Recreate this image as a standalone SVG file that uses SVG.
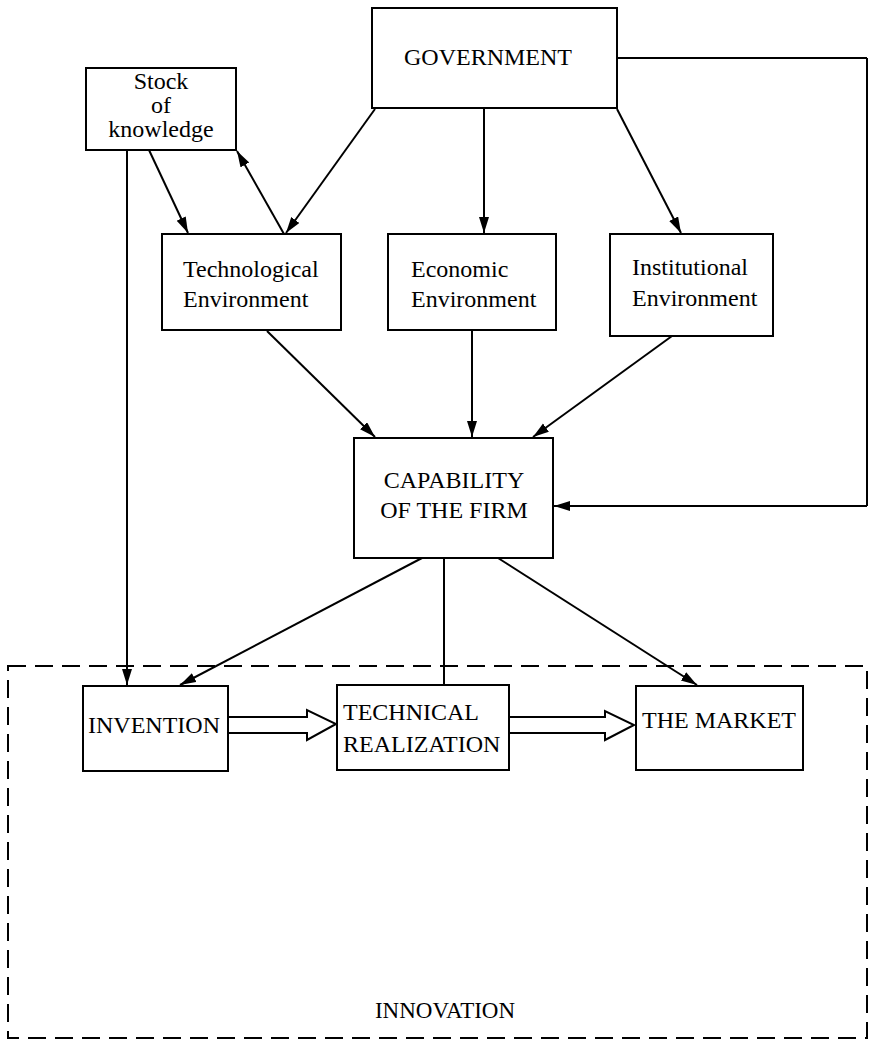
<svg xmlns="http://www.w3.org/2000/svg" width="874" height="1043" viewBox="0 0 874 1043">
  <style>
    .box { fill: #fff; stroke: #000; stroke-width: 2; }
    .lbl { font-family: "Liberation Serif", "Times New Roman", serif; font-size: 24px; fill: #000; }
    .mid { text-anchor: middle; }
    .edge { fill: none; stroke: #000; stroke-width: 2; }
    .fat { fill: #fff; stroke: #000; stroke-width: 2; stroke-linejoin: miter; }
    .frame { fill: none; stroke: #000; stroke-width: 2; stroke-dasharray: 18 9; }
  </style>
  <defs>
    <marker id="head" markerUnits="userSpaceOnUse" markerWidth="18" markerHeight="12" refX="16" refY="5" orient="auto">
      <path d="M0,0 L16,5 L0,10 Z" fill="#000"/>
    </marker>
  </defs>

  <!-- innovation frame -->
  <g id="innovation">
    <rect class="frame" x="8" y="666" width="859" height="372"/>
    <text class="lbl mid" x="445" y="1018" style="font-size:23px">INNOVATION</text>
  </g>

  <!-- connectors -->
  <g id="connectors">
    <line class="edge" x1="617" y1="58" x2="867" y2="58"/>
    <line class="edge" x1="867" y1="58" x2="867" y2="506"/>
    <line class="edge" x1="867" y1="506" x2="554" y2="506" marker-end="url(#head)"/>
    <line class="edge" x1="127" y1="150" x2="127" y2="685" marker-end="url(#head)"/>
    <line class="edge" x1="149" y1="150" x2="188" y2="233" marker-end="url(#head)"/>
    <line class="edge" x1="284" y1="234" x2="237" y2="151" marker-end="url(#head)"/>
    <line class="edge" x1="375" y1="109" x2="286" y2="233" marker-end="url(#head)"/>
    <line class="edge" x1="484" y1="108" x2="484" y2="233" marker-end="url(#head)"/>
    <line class="edge" x1="617" y1="109" x2="681" y2="233" marker-end="url(#head)"/>
    <line class="edge" x1="267" y1="331" x2="375" y2="437" marker-end="url(#head)"/>
    <line class="edge" x1="472" y1="331" x2="472" y2="437" marker-end="url(#head)"/>
    <line class="edge" x1="672" y1="336" x2="533" y2="437" marker-end="url(#head)"/>
    <line class="edge" x1="422" y1="558" x2="180" y2="685" marker-end="url(#head)"/>
    <line class="edge" x1="444" y1="558" x2="444" y2="685"/>
    <line class="edge" x1="498" y1="558" x2="697" y2="685" marker-end="url(#head)"/>
    <polygon class="fat" points="228,717 307,717 307,710 336,724 307,740 307,733 228,733"/>
    <polygon class="fat" points="509,717 605,717 605,711 634,725 605,740 605,733 509,733"/>
  </g>

  <g id="government">
    <rect class="box" x="372" y="8" width="245" height="100"/>
    <text class="lbl mid" x="488" y="65">GOVERNMENT</text>
  </g>

  <g id="stock">
    <rect class="box" x="86" y="68" width="150" height="82"/>
    <text class="lbl mid" x="161" y="89">Stock</text>
    <text class="lbl mid" x="161" y="113">of</text>
    <text class="lbl mid" x="161" y="137">knowledge</text>
  </g>

  <g id="technological">
    <rect class="box" x="162" y="234" width="179" height="96"/>
    <text class="lbl" x="183" y="277">Technological</text>
    <text class="lbl" x="183" y="307">Environment</text>
  </g>

  <g id="economic">
    <rect class="box" x="388" y="234" width="168" height="96"/>
    <text class="lbl" x="411" y="277">Economic</text>
    <text class="lbl" x="411" y="307">Environment</text>
  </g>

  <g id="institutional">
    <rect class="box" x="610" y="234" width="163" height="102"/>
    <text class="lbl" x="632" y="275">Institutional</text>
    <text class="lbl" x="632" y="306">Environment</text>
  </g>

  <g id="capability">
    <rect class="box" x="354" y="438" width="199" height="120"/>
    <text class="lbl mid" x="454" y="488">CAPABILITY</text>
    <text class="lbl mid" x="454" y="518">OF THE FIRM</text>
  </g>

  <g id="invention">
    <rect class="box" x="83" y="686" width="145" height="85"/>
    <text class="lbl" x="88" y="733">INVENTION</text>
  </g>

  <g id="technical">
    <rect class="box" x="337" y="685" width="172" height="85"/>
    <text class="lbl" x="343" y="720">TECHNICAL</text>
    <text class="lbl" x="343" y="752">REALIZATION</text>
  </g>

  <g id="market">
    <rect class="box" x="636" y="686" width="167" height="84"/>
    <text class="lbl" x="642" y="728">THE MARKET</text>
  </g>
</svg>
